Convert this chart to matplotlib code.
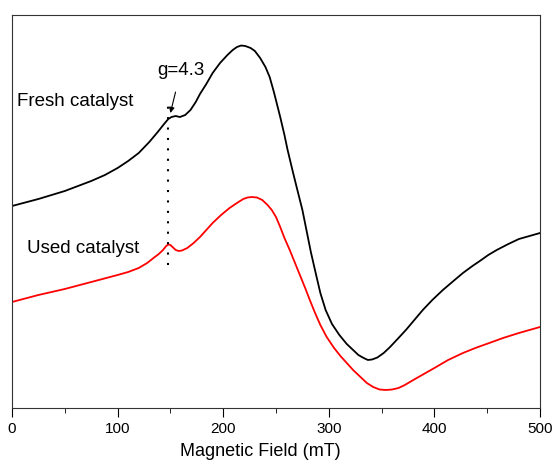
import matplotlib.pyplot as plt
from matplotlib.ticker import MultipleLocator

plt.rcParams['font.family'] = ['Liberation Sans', 'DejaVu Sans']

# EPR spectra (intensity in arbitrary units)
fresh_field = [0, 25, 50, 75, 88, 100, 110, 120, 130, 138, 144, 148, 151, 155, 159, 164,
               169, 174, 178, 184, 190, 197, 204, 209, 213, 217, 221, 226, 230, 235,
               240, 244, 248, 254, 258, 261, 266, 270, 275, 279, 283, 288, 292, 297,
               303, 310, 317, 323, 328, 333, 337, 341, 346, 352, 358, 366, 373, 381,
               389, 398, 408, 418, 427, 436, 443, 451, 459, 470, 480, 490, 500]
fresh_signal = [259, 266, 274, 284, 290, 297, 304, 312, 323, 333, 341, 346, 348, 349, 348, 350,
                355, 363, 371, 381, 392, 402, 410, 415, 418, 419.5, 419, 417, 414, 407,
                398, 388, 373, 348, 330, 315, 293, 276, 255, 234, 213, 190, 172, 155,
                141, 130, 121, 115, 110, 107, 105, 105.5, 107.5, 112, 118, 127, 135, 145,
                155, 165, 175, 184, 192, 199, 204, 210, 215, 221, 226, 229, 232]

used_field = [0, 25, 50, 75, 100, 110, 120, 128, 134, 139, 143, 146, 148, 150, 152, 155,
              158, 161, 166, 172, 178, 184, 190, 198, 206, 213, 219, 223, 227, 232,
              237, 242, 246, 250, 254, 258, 263, 268, 273, 278, 282, 287, 292, 298,
              305, 311, 317, 323, 330, 336, 342, 348, 354, 360, 366, 372, 380, 390,
              400, 413, 427, 440, 452, 465, 480, 490, 500]
used_signal = [163, 170, 176, 183, 190, 193, 197, 202, 207, 211, 215, 219, 220.5, 220, 218, 215,
               214, 214.5, 217, 222, 228, 235, 242, 250, 257, 262, 266, 267.5, 268, 267.5,
               265, 260, 255, 248, 238, 227, 215, 202, 189, 176, 165, 152, 140, 128,
               117, 109, 102, 95, 88, 82, 78, 75.5, 75, 75.5, 77, 80, 85, 91,
               97, 105, 112, 117.5, 122, 127, 132, 135, 138]

g_field = 148  # g=4.3 position

fig = plt.figure(figsize=(5.55, 4.65), dpi=100)
ax = fig.add_axes([0.0216, 0.1226, 0.9514, 0.8451])

ax.plot(fresh_field, fresh_signal, color='black', lw=1.3)
ax.plot(used_field, used_signal, color='red', lw=1.3)

# dotted marker for g=4.3
ax.plot([g_field, g_field], [200, 365], color='black', lw=1.5, linestyle=(0, (1, 4)))

ax.annotate('g=4.3', xy=(150, 352), xytext=(160, 395), ha='center', va='center',
            fontsize=13.5,
            arrowprops=dict(arrowstyle='-|>', color='black', lw=0.8,
                            mutation_scale=8, shrinkA=8, shrinkB=0))
ax.text(5, 364, 'Fresh catalyst', fontsize=13.5, va='center', ha='left')
ax.text(14, 217, 'Used catalyst', fontsize=13.5, va='center', ha='left')

ax.set_xlim(0, 500)
ax.set_ylim(57, 450)
ax.set_yticks([])
ax.xaxis.set_major_locator(MultipleLocator(100))
ax.xaxis.set_minor_locator(MultipleLocator(50))
ax.tick_params(axis='x', direction='out', length=6.5, labelsize=11)
ax.tick_params(axis='x', which='minor', direction='out', length=3.5)
ax.set_xlabel('Magnetic Field (mT)', fontsize=13)
ax.xaxis.set_label_coords(0.47, -0.11, transform=ax.transAxes)
ax.xaxis.label.set_va('center')

for s in ax.spines.values():
    s.set_color('#333333')

fig.savefig('out.png', dpi=100)
